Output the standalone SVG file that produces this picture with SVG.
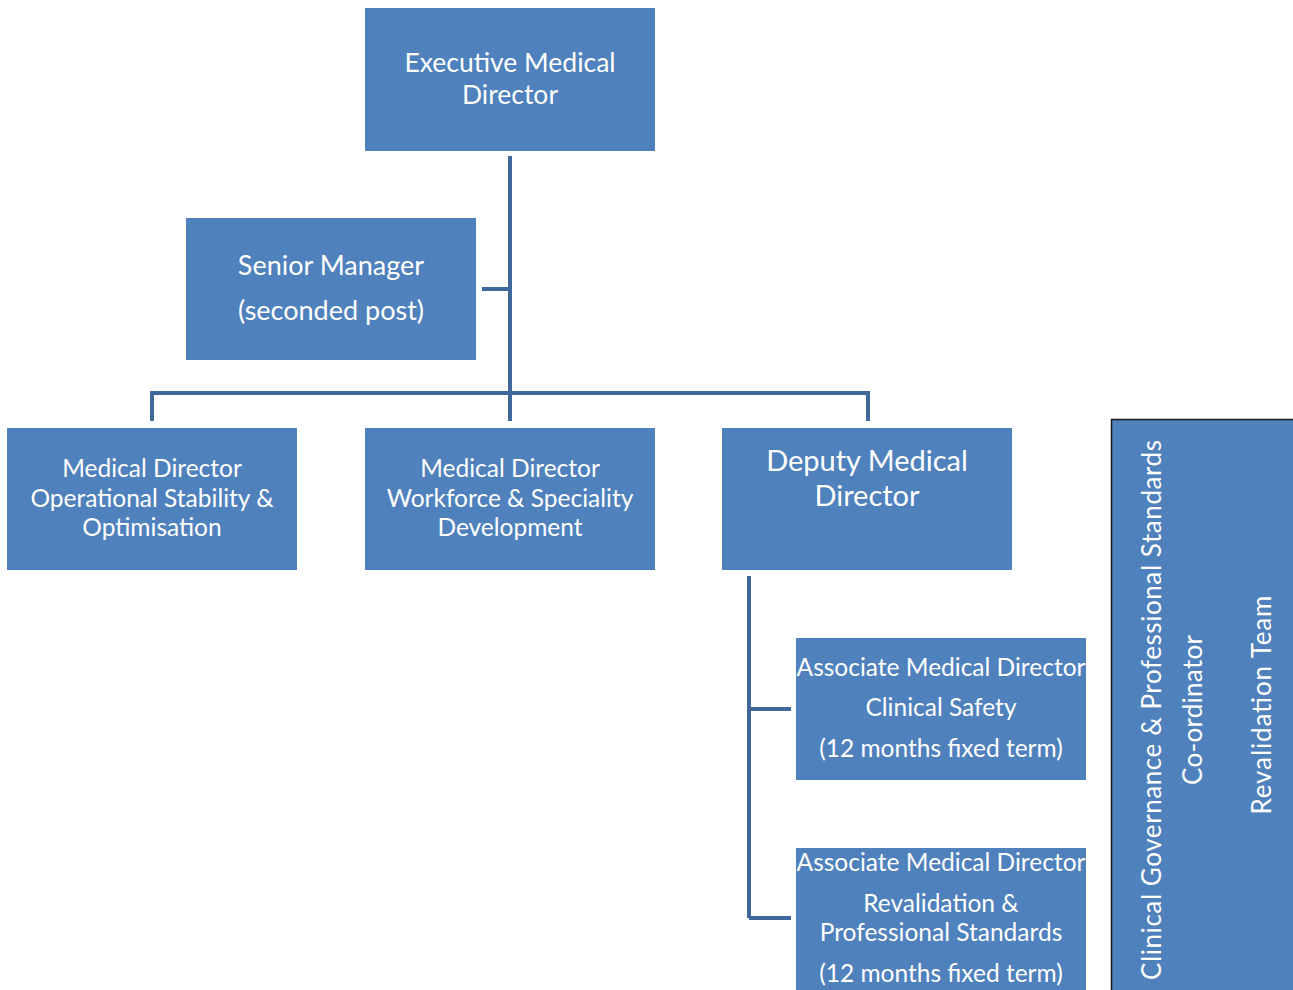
<svg xmlns="http://www.w3.org/2000/svg" width="1293" height="990" viewBox="0 0 1293 990">
<style>
.box{fill:#4F81BD;}
.t{fill:#fff;font-family:Lato,"Open Sans","Liberation Sans",sans-serif;text-anchor:middle;}
.c{stroke:#41689B;stroke-width:4;fill:none;}
</style>
<rect width="1293" height="990" fill="#fff"/>
<g id="connectors">
<path class="c" d="M510 156V421M152 421V393H868V421M482 289H510M749 576V918M749 709H791M749 918H791"/>
</g>
<g id="exec"><rect class="box" x="365" y="8" width="290" height="143"/>
<text class="t" font-size="26.5"><tspan x="510" y="72">Executive Medical</tspan><tspan x="510" y="104">Director</tspan></text></g>
<g id="senior"><rect class="box" x="186" y="218" width="290" height="142"/>
<text class="t" font-size="27"><tspan x="331" y="275">Senior Manager</tspan><tspan x="331" y="320">(seconded post)</tspan></text></g>
<g id="md1"><rect class="box" x="7" y="428" width="290" height="142"/>
<text class="t" font-size="24.5"><tspan x="152" y="477">Medical Director</tspan><tspan x="152" y="507">Operational Stability &amp;</tspan><tspan x="152" y="536">Optimisation</tspan></text></g>
<g id="md2"><rect class="box" x="365" y="428" width="290" height="142"/>
<text class="t" font-size="24.5"><tspan x="510" y="477">Medical Director</tspan><tspan x="510" y="507">Workforce &amp; Speciality</tspan><tspan x="510" y="536">Development</tspan></text></g>
<g id="deputy"><rect class="box" x="722" y="428" width="290" height="142"/>
<text class="t" font-size="29"><tspan x="867" y="471">Deputy Medical</tspan><tspan x="867" y="506">Director</tspan></text></g>
<g id="amd1"><rect class="box" x="796" y="638" width="290" height="142"/>
<text class="t" font-size="24.5"><tspan x="941" y="676">Associate Medical Director</tspan><tspan x="941" y="716">Clinical Safety</tspan><tspan x="941" y="757">(12 months fixed term)</tspan></text></g>
<g id="amd2"><rect class="box" x="796" y="848" width="290" height="150"/>
<text class="t" font-size="24.5"><tspan x="941" y="871">Associate Medical Director</tspan><tspan x="941" y="912">Revalidation &amp;</tspan><tspan x="941" y="941">Professional Standards</tspan><tspan x="941" y="982">(12 months fixed term)</tspan></text></g>
<g id="team"><rect class="box" x="1111.5" y="419.5" width="190" height="580" stroke="#1a1a1a" stroke-width="1.5"/>
<text class="t" font-size="26" transform="translate(1161 710) rotate(-90)"><tspan x="0" y="0" textLength="540">Clinical Governance &amp; Professional Standards</tspan><tspan x="0" y="41" textLength="150">Co-ordinator</tspan></text>
<text class="t" font-size="26" transform="translate(1271 705) rotate(-90)"><tspan x="0" y="0" textLength="219">Revalidation Team</tspan></text></g>
</svg>
